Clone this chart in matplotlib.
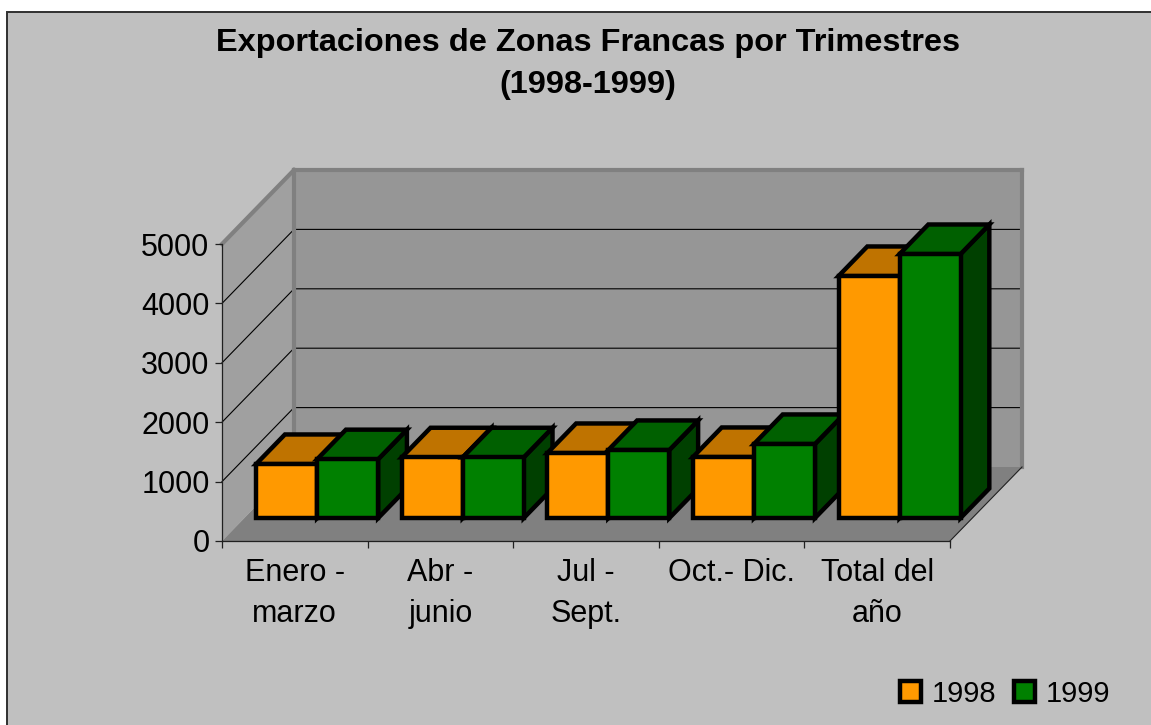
import matplotlib
matplotlib.use("Agg")
import matplotlib.pyplot as plt
from matplotlib.patches import Polygon, Patch, Rectangle

plt.rcParams['font.family'] = ['Liberation Sans', 'DejaVu Sans']

categories = ["Enero -\nmarzo", "Abr -\njunio", "Jul -\nSept.", "Oct.- Dic.", "Total del\naño"]
series_names = ["1998", "1999"]
values_1998 = [909, 1022, 1094, 1027, 4074]
values_1999 = [990, 1022, 1145, 1246, 4444]
y_ticks = [0, 1000, 2000, 3000, 4000, 5000]
title_text = "Exportaciones de Zonas Francas por Trimestres\n(1998-1999)"

W, H = 1151, 725
fig = plt.figure(figsize=(W / 100, H / 100), dpi=100, facecolor="white")
frame = Rectangle((7 / W, 1 - 735.0 / H), (W + 10) / W, (735 - 12) / H,
                  transform=fig.transFigure, facecolor="#C0C0C0",
                  edgecolor="#303030", linewidth=1.4, zorder=-5)
fig.add_artist(frame)

ax = fig.add_axes([222 / W, 1 - 541 / H, 728 / W, 297 / H])
ax.set_xlim(0, 5)
ax.set_ylim(0, 5000)
ax.patch.set_visible(False)

# oblique projection: depth 0 = front plane, depth 1 = back wall
DX = 72 / 145.6
DY = 74 / 59.4 * 1000


def pr(x, y, d):
    return (x + d * DX, y + d * DY)


def poly(pts, **kw):
    ax.add_patch(Polygon(pts, closed=True, clip_on=False, **kw))


# walls and floor
poly([pr(0, 0, 0), pr(5, 0, 0), pr(5, 0, 1), pr(0, 0, 1)], facecolor="#808080", edgecolor="none", zorder=1)
poly([pr(0, 0, 0), pr(0, 5000, 0), pr(0, 5000, 1), pr(0, 0, 1)], facecolor="#A0A0A0", edgecolor="none", zorder=1)
poly([pr(0, 0, 1), pr(5, 0, 1), pr(5, 5000, 1), pr(0, 5000, 1)], facecolor="#969696", edgecolor="none", zorder=1)

# gridlines
for v in y_ticks[1:-1]:
    xs, ys = zip(pr(0, v, 0), pr(0, v, 1), pr(5, v, 1))
    ax.plot(xs, ys, color="black", lw=0.8, clip_on=False, zorder=1.2)

# wall borders
for a, b in [(pr(0, 5000, 0), pr(0, 5000, 1)), (pr(0, 5000, 1), pr(5, 5000, 1)),
             (pr(5, 5000, 1), pr(5, 0, 1)), (pr(0, 5000, 1), pr(0, 0, 1))]:
    ax.plot([a[0], b[0]], [a[1], b[1]], color="#808080", lw=3.0, clip_on=False,
            zorder=1.4, solid_capstyle="projecting")
a, b = pr(5, 0, 0), pr(5, 0, 1)
ax.plot([a[0], b[0]], [a[1], b[1]], color="#202020", lw=0.8, clip_on=False, zorder=1.5)

# bars
D0, D1 = 0.31, 0.71
BW = 61 / 145.6
styles = [dict(front="#FF9900", top="#BF7300", side="#7F4C00"),
          dict(front="#008000", top="#006000", side="#004000")]
z = 3.0
for i in range(len(categories)):
    c = i + 0.5
    for s, vals in enumerate([values_1998, values_1999]):
        v = vals[i]
        x0 = c - BW + s * BW
        x1 = x0 + BW
        st = styles[s]
        kw = dict(edgecolor="black", linewidth=3.2, joinstyle="miter")
        poly([pr(x1, 0, D0), pr(x1, 0, D1), pr(x1, v, D1), pr(x1, v, D0)], facecolor=st["side"], zorder=z, **kw)
        poly([pr(x0, v, D0), pr(x1, v, D0), pr(x1, v, D1), pr(x0, v, D1)], facecolor=st["top"], zorder=z + 0.01, **kw)
        poly([pr(x0, 0, D0), pr(x1, 0, D0), pr(x1, v, D0), pr(x0, v, D0)], facecolor=st["front"], zorder=z + 0.02, **kw)
        z += 0.1

# axes
for sp in ("top", "right"):
    ax.spines[sp].set_visible(False)
for sp in ("left", "bottom"):
    ax.spines[sp].set_color("#202020")
    ax.spines[sp].set_linewidth(0.9)
ax.set_yticks(y_ticks)
ax.set_xticks(range(len(categories) + 1))
ax.set_xticklabels([])
ax.set_xticks([i + 0.5 for i in range(len(categories))], minor=True)
ax.set_xticklabels(categories, minor=True, linespacing=1.45)
ax.tick_params(axis="x", which="major", length=5, width=0.9, color="#202020")
ax.tick_params(axis="x", which="minor", length=0, pad=12.5, labelsize=22)
ax.tick_params(axis="y", length=5, width=0.9, color="#202020", pad=4.0, labelsize=22)

# title
fig.text(588 / W, 1 - 64 / H, title_text, ha="center", va="center", fontsize=23.4,
         fontweight="bold", linespacing=1.55, color="black")

# legend
handles = [Patch(facecolor=st["front"], edgecolor="black", linewidth=3.2) for st in styles]
fig.legend(handles, series_names, loc="center right", bbox_to_anchor=(1110 / W, 1 - 694 / H),
           ncol=2, frameon=False, fontsize=21, handlelength=0.72, handleheight=0.72,
           handletextpad=0.37, columnspacing=0.6, borderpad=0, borderaxespad=0)

fig.savefig("out.png", dpi=100, facecolor="white")
